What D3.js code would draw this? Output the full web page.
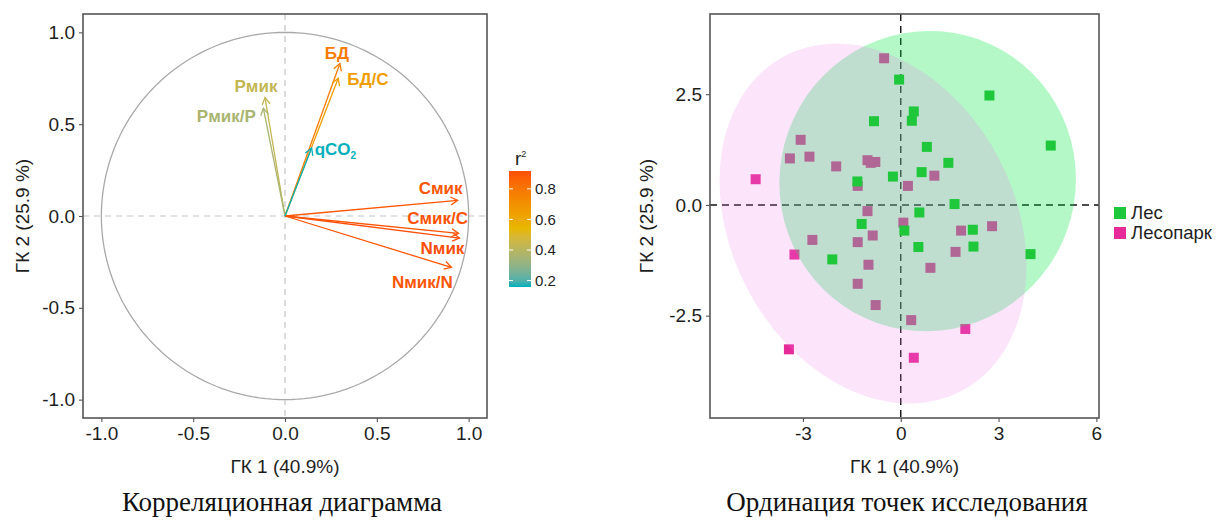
<!DOCTYPE html>
<html>
<head>
<meta charset="utf-8">
<script src="https://cdn.jsdelivr.net/npm/d3@7"></script>
<style>
  body { margin: 0; background: #fff; }
  svg { display: block; }
</style>
</head>
<body>
<svg id="fig" width="1229" height="520"></svg>
<script>
// ---- Correlation circle: loadings of the variables on PC1 / PC2 ----
const varNames = ["Смик", "Смик/С", "Nмик", "Nмик/N", "БД", "БД/С", "qCO2", "Рмик", "Рмик/Р"];
const varPC1   = [0.940, 0.945, 0.950, 0.906, 0.299, 0.290, 0.145, -0.109, -0.118];
const varPC2   = [0.085, -0.095, -0.120, -0.280, 0.830, 0.750, 0.370, 0.645, 0.587];
const circleTicks = [-1.0, -0.5, 0.0, 0.5, 1.0];
const r2Ticks = [0.2, 0.4, 0.6, 0.8];
const r2Colors = ["#00AFBB", "#E7B800", "#FC4E07"];

// ---- Ordination of the study sites: PC scores per group ----
const groups = ["Лес", "Лесопарк"];
const lesPC1 = [-0.05, 2.72, 0.40, 0.34, -0.82, 4.60, 0.80, 1.46, 0.64, -0.24,
                -1.33, 1.65, 0.57, -1.20, 0.11, 2.21, 0.54, 2.23, 3.98, -2.10];
const lesPC2 = [2.83, 2.47, 2.11, 1.90, 1.89, 1.34, 1.31, 0.95, 0.74, 0.64,
                0.53, 0.02, -0.17, -0.43, -0.58, -0.56, -0.95, -0.94, -1.11, -1.23];
const parkPC1 = [-0.51, -3.07, -3.40, -2.80, -1.98, -1.02, -0.92, -0.78, -4.45, -1.32,
                 0.22, 1.03, -1.02, 0.08, -0.86, 1.85, 2.80, -2.71, -1.32, -3.26,
                 1.68, -0.99, 0.91, -1.32, -0.77, 0.32, 1.98, -3.43, 0.40];
const parkPC2 = [3.31, 1.47, 1.05, 1.09, 0.87, 1.01, 0.95, 0.97, 0.58, 0.43,
                 0.43, 0.66, -0.14, -0.40, -0.69, -0.58, -0.48, -0.79, -0.84, -1.12,
                 -1.06, -1.35, -1.42, -1.78, -2.26, -2.60, -2.80, -3.26, -3.45];
const siteXTicks = [-3, 0, 3, 6];
const siteYTicks = [-2.5, 0.0, 2.5];

const axisTitleX = "ГК 1 (40.9%)";
const axisTitleY = "ГК 2 (25.9 %)";
const captions = ["Корреляционная диаграмма", "Ординация точек исследования"];

// ---------------------------------------------------------------
const svg = d3.select("#fig");
const SANS = "'Liberation Sans', Arial, sans-serif";
const SERIF = "'Liberation Serif', 'Times New Roman', serif";
const TXT = "#1e1e1e";
const FRAME = "#555";
const AXIS_FS = "19px";

function styleAxis(g) {
  g.select(".domain").remove();
  g.selectAll(".tick line").attr("stroke", FRAME).attr("stroke-width", 1.1);
  g.selectAll(".tick text").attr("fill", TXT)
    .style("font-family", SANS).style("font-size", AXIS_FS);
}

// ================= Left panel: correlation circle =================
const L = { left: 83, right: 487, top: 14, bottom: 418 };
const lx = d3.scaleLinear().domain([-1.1, 1.1]).range([L.left, L.right]);
const ly = d3.scaleLinear().domain([-1.1, 1.1]).range([L.bottom, L.top]);
const left = svg.append("g");

left.append("rect").attr("x", L.left).attr("y", L.top)
  .attr("width", L.right - L.left).attr("height", L.bottom - L.top)
  .attr("fill", "#fff");

// zero reference lines
left.append("line").attr("x1", L.left).attr("x2", L.right)
  .attr("y1", ly(0)).attr("y2", ly(0))
  .attr("stroke", "#bfc3c9").attr("stroke-width", 1.1).attr("stroke-dasharray", "6,5");
left.append("line").attr("y1", L.top).attr("y2", L.bottom)
  .attr("x1", lx(0)).attr("x2", lx(0))
  .attr("stroke", "#bfbfbf").attr("stroke-width", 1.1).attr("stroke-dasharray", "6,5");

// unit circle
const angles = d3.range(0, 361, 2).map(a => a * Math.PI / 180);
left.append("path")
  .attr("d", d3.line().x(a => lx(Math.cos(a))).y(a => ly(Math.sin(a)))(angles))
  .attr("fill", "none").attr("stroke", "#a9a9a9").attr("stroke-width", 1.3);

// colour by r² (squared cosine on the plane), interpolated in Lab space
const vars = varNames.map((n, i) => ({ name: n, x: varPC1[i], y: varPC2[i], r2: varPC1[i] ** 2 + varPC2[i] ** 2 }));
const r2Ext = d3.extent(vars, d => d.r2);
const r2Color = d3.scaleLinear()
  .domain([r2Ext[0], (r2Ext[0] + r2Ext[1]) / 2, r2Ext[1]])
  .range(r2Colors).interpolate(d3.interpolateLab);

// arrows
const drawOrder = vars.slice().sort((a, b) => b.r2 - a.r2);
const headLen = 8, headAng = Math.PI / 6;
drawOrder.forEach(v => {
  const x0 = lx(0), y0 = ly(0), x1 = lx(v.x), y1 = ly(v.y);
  const th = Math.atan2(y1 - y0, x1 - x0);
  const c = r2Color(v.r2);
  left.append("line").attr("x1", x0).attr("y1", y0).attr("x2", x1).attr("y2", y1)
    .attr("stroke", c).attr("stroke-width", 1.3);
  const w1 = [x1 - headLen * Math.cos(th - headAng), y1 - headLen * Math.sin(th - headAng)];
  const w2 = [x1 - headLen * Math.cos(th + headAng), y1 - headLen * Math.sin(th + headAng)];
  left.append("path").attr("d", `M${w1}L${x1},${y1}L${w2}`)
    .attr("fill", "none").attr("stroke", c).attr("stroke-width", 1.3);
});

// variable labels, nudged away from the arrow tips
const labelNudge = {
  "Смик": [-17, -12, "middle"], "Смик/С": [-21, -15, "middle"], "Nмик": [-17, 10, "middle"],
  "Nмик/N": [-29, 15, "middle"], "БД": [-3, -11, "middle"], "БД/С": [9, 1, "start"],
  "qCO2": [3, 1, "start"], "Рмик": [-9, -12, "middle"], "Рмик/Р": [-37, 8, "middle"]
};
vars.forEach(v => {
  const [dx, dy, anchor] = labelNudge[v.name];
  const t = left.append("text")
    .attr("x", lx(v.x) + dx).attr("y", ly(v.y) + dy)
    .attr("dy", "0.35em").attr("text-anchor", anchor)
    .attr("fill", r2Color(v.r2))
    .style("font-family", SANS).style("font-size", "17px").style("font-weight", "bold");
  if (v.name === "qCO2") {
    t.append("tspan").text("qCO");
    t.append("tspan").text("2").attr("dy", 4).style("font-size", "10px");
  } else {
    t.text(v.name);
  }
});

// frame + axes
left.append("rect").attr("x", L.left).attr("y", L.top)
  .attr("width", L.right - L.left).attr("height", L.bottom - L.top)
  .attr("fill", "none").attr("stroke", FRAME).attr("stroke-width", 1.6);
left.append("g").attr("transform", `translate(0,${L.bottom})`)
  .call(d3.axisBottom(lx).tickValues(circleTicks).tickFormat(d => d.toFixed(1)).tickSize(4).tickPadding(5))
  .call(styleAxis);
left.append("g").attr("transform", `translate(${L.left},0)`)
  .call(d3.axisLeft(ly).tickValues(circleTicks).tickFormat(d => d.toFixed(1)).tickSize(4).tickPadding(4))
  .call(styleAxis);
left.append("text").attr("x", (L.left + L.right) / 2).attr("y", 473)
  .attr("text-anchor", "middle").attr("fill", TXT)
  .style("font-family", SANS).style("font-size", AXIS_FS).text(axisTitleX);
left.append("text").attr("transform", `translate(29,${(L.top + L.bottom) / 2}) rotate(-90)`)
  .attr("text-anchor", "middle").attr("fill", TXT)
  .style("font-family", SANS).style("font-size", AXIS_FS).text(axisTitleY);

// r² colour bar
const CB = { x: 509, w: 22, top: 171, bottom: 287 };
const cbScale = d3.scaleLinear().domain(r2Ext).range([CB.bottom, CB.top]);
const grad = svg.append("defs").append("linearGradient").attr("id", "r2grad")
  .attr("x1", 0).attr("y1", 1).attr("x2", 0).attr("y2", 0);
d3.range(0, 1.0001, 0.05).forEach(f => {
  grad.append("stop").attr("offset", f)
    .attr("stop-color", r2Color(r2Ext[0] + f * (r2Ext[1] - r2Ext[0])));
});
const cb = svg.append("g");
cb.append("rect").attr("x", CB.x).attr("y", CB.top).attr("width", CB.w)
  .attr("height", CB.bottom - CB.top).attr("fill", "url(#r2grad)");
r2Ticks.forEach(t => {
  const y = cbScale(t);
  cb.append("line").attr("x1", CB.x).attr("x2", CB.x + 4).attr("y1", y).attr("y2", y)
    .attr("stroke", "#fff").attr("stroke-width", 1);
  cb.append("line").attr("x1", CB.x + CB.w - 4).attr("x2", CB.x + CB.w).attr("y1", y).attr("y2", y)
    .attr("stroke", "#fff").attr("stroke-width", 1);
  cb.append("text").attr("x", CB.x + CB.w + 4).attr("y", y).attr("dy", "0.35em")
    .attr("fill", TXT).style("font-family", SANS).style("font-size", "15px")
    .text(t.toFixed(1));
});
const cbTitle = cb.append("text").attr("x", CB.x + 6).attr("y", 165)
  .attr("fill", TXT).style("font-family", SANS).style("font-size", "19px");
cbTitle.append("tspan").text("r");
cbTitle.append("tspan").text("2").attr("dy", -8).style("font-size", "9px");

// ================= Right panel: site ordination =================
const R = { left: 710, right: 1099, top: 14, bottom: 418 };
const rx = d3.scaleLinear().domain([-5.85, 6.08]).range([R.left, R.right]);
const ry = d3.scaleLinear().domain([-4.81, 4.31]).range([R.bottom, R.top]);
const right = svg.append("g");

const lesPts = lesPC1.map((x, i) => ({ x, y: lesPC2[i] }));
const parkPts = parkPC1.map((x, i) => ({ x, y: parkPC2[i] }));

// 95 % normal-theory data ellipse (as in ggplot2::stat_ellipse(type = "norm"))
function normEllipse(pts, level = 0.95, segments = 72) {
  const n = pts.length;
  const mx = d3.mean(pts, d => d.x), my = d3.mean(pts, d => d.y);
  let sxx = 0, syy = 0, sxy = 0;
  pts.forEach(d => { sxx += (d.x - mx) ** 2; syy += (d.y - my) ** 2; sxy += (d.x - mx) * (d.y - my); });
  sxx /= n - 1; syy /= n - 1; sxy /= n - 1;
  const a = Math.sqrt(sxx), b = sxy / a, c = Math.sqrt(syy - b * b);
  const dfd = n - 1;
  const qf = (dfd / 2) * (Math.pow(1 - level, -2 / dfd) - 1);   // F(2, dfd) quantile
  const rad = Math.sqrt(2 * qf);
  return d3.range(segments + 1).map(k => {
    const t = 2 * Math.PI * k / segments;
    return { x: mx + rad * a * Math.cos(t), y: my + rad * (b * Math.cos(t) + c * Math.sin(t)) };
  });
}
const ellLine = d3.line().x(d => rx(d.x)).y(d => ry(d.y));

const GREEN = "#1ec83a", PINK = "#e62a98";

right.append("rect").attr("x", R.left).attr("y", R.top)
  .attr("width", R.right - R.left).attr("height", R.bottom - R.top).attr("fill", "#fff");

// zero lines
right.append("line").attr("x1", R.left).attr("x2", R.right).attr("y1", ry(0)).attr("y2", ry(0))
  .attr("stroke", "#111").attr("stroke-width", 1.4).attr("stroke-dasharray", "7,5");
right.append("line").attr("y1", R.top).attr("y2", R.bottom).attr("x1", rx(0)).attr("x2", rx(0))
  .attr("stroke", "#111").attr("stroke-width", 1.4).attr("stroke-dasharray", "7,5");

const sq = 10;
function drawPoints(pts, color) {
  right.append("g").selectAll("rect").data(pts).join("rect")
    .attr("x", d => rx(d.x) - sq / 2).attr("y", d => ry(d.y) - sq / 2)
    .attr("width", sq).attr("height", sq).attr("fill", color);
}

drawPoints(parkPts, PINK);
right.append("path").attr("d", ellLine(normEllipse(lesPts)) + "Z")
  .attr("fill", "#05e848").attr("fill-opacity", 0.3);
right.append("path").attr("d", ellLine(normEllipse(parkPts)) + "Z")
  .attr("fill", "#f078eb").attr("fill-opacity", 0.2);
drawPoints(lesPts, GREEN);

right.append("rect").attr("x", R.left).attr("y", R.top)
  .attr("width", R.right - R.left).attr("height", R.bottom - R.top)
  .attr("fill", "none").attr("stroke", FRAME).attr("stroke-width", 1.6);
right.append("g").attr("transform", `translate(0,${R.bottom})`)
  .call(d3.axisBottom(rx).tickValues(siteXTicks).tickFormat(d => String(d)).tickSize(4).tickPadding(5))
  .call(styleAxis);
right.append("g").attr("transform", `translate(${R.left},0)`)
  .call(d3.axisLeft(ry).tickValues(siteYTicks).tickFormat(d => d.toFixed(1)).tickSize(4).tickPadding(4))
  .call(styleAxis);
right.append("text").attr("x", (R.left + R.right) / 2).attr("y", 473)
  .attr("text-anchor", "middle").attr("fill", TXT)
  .style("font-family", SANS).style("font-size", AXIS_FS).text(axisTitleX);
right.append("text").attr("transform", `translate(653,${(R.top + R.bottom) / 2}) rotate(-90)`)
  .attr("text-anchor", "middle").attr("fill", TXT)
  .style("font-family", SANS).style("font-size", AXIS_FS).text(axisTitleY);

// legend
const legColors = [GREEN, PINK];
groups.forEach((g, i) => {
  const y = 213 + i * 20;
  svg.append("rect").attr("x", 1114).attr("y", y - 6).attr("width", 12).attr("height", 12)
    .attr("fill", legColors[i]);
  svg.append("text").attr("x", 1131).attr("y", y).attr("dy", "0.35em")
    .attr("fill", TXT).style("font-family", SANS).style("font-size", "18.5px").text(g);
});

// captions under the panels
[[282, captions[0]], [907, captions[1]]].forEach(([x, t]) => {
  svg.append("text").attr("x", x).attr("y", 511).attr("text-anchor", "middle")
    .attr("fill", "#111").style("font-family", SERIF).style("font-size", "27px").text(t);
});
</script>
</body>
</html>
